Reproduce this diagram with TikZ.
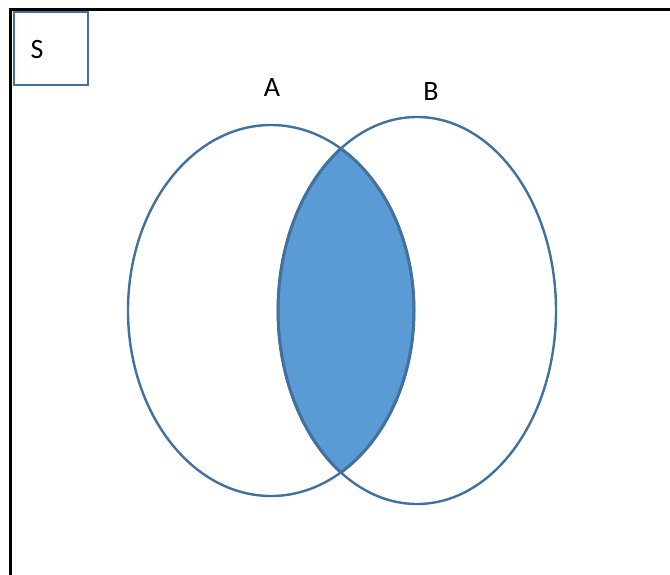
\documentclass[tikz,border=0pt]{standalone}
\usepackage{fontspec}
\setmainfont{Carlito}
\usetikzlibrary{shapes.geometric}
\definecolor{edgeblue}{HTML}{41719C}
\definecolor{fillblue}{HTML}{5B9BD5}
\tikzset{
  setellipse/.style={ellipse, draw=edgeblue, line width=2.4pt, inner sep=0pt},
  lbl/.style={font=\fontsize{28}{30}\selectfont, inner sep=0pt},
  frameline/.style={black, line width=3pt},
}
\begin{document}
\begin{tikzpicture}[x=1pt, y=-1pt]
\useasboundingbox (0,0) rectangle (670,574);
\fill[white] (0,0) rectangle (670,574);
% universe frame
\coordinate (fbl) at (10.5,580);
\coordinate (ftl) at (10.5,9.5);
\coordinate (ftr) at (680,9.5);
\draw[frameline] (fbl) -- (ftl) -- (ftr);
% S box
\node[draw=edgeblue, line width=2.4pt, minimum width=74pt, minimum height=73pt, anchor=north west, fill=white] (sbox) at (12.5,10.5) {};
\node[lbl] (S) at (37,50) {S};
% sets
\coordinate (ca) at (271,310.5);
\coordinate (cb) at (417,310.5);
\begin{scope}
  \clip (ca) ellipse [x radius=143, y radius=185.5];
  \fill[fillblue] (cb) ellipse [x radius=139, y radius=193.5];
\end{scope}
\begin{scope}
  \clip (ca) ellipse [x radius=143, y radius=185.5];
  \draw[edgeblue, line width=3pt] (cb) ellipse [x radius=139, y radius=193.5];
\end{scope}
\begin{scope}
  \clip (cb) ellipse [x radius=139, y radius=193.5];
  \draw[edgeblue, line width=3pt] (ca) ellipse [x radius=143, y radius=185.5];
\end{scope}
\node[setellipse, minimum width=286pt, minimum height=371pt] (A) at (ca) {};
\node[setellipse, minimum width=278pt, minimum height=387pt] (B) at (cb) {};
\node[lbl] (la) at (272,88) {A};
\node[lbl] (lb) at (431,92) {B};
\end{tikzpicture}
\end{document}
